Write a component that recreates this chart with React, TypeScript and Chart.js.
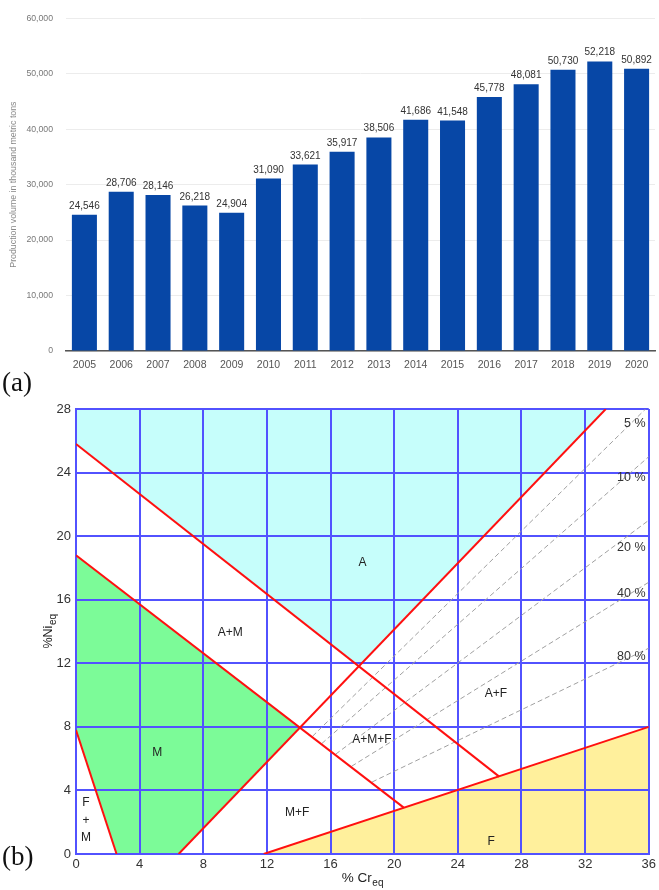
import React, { useEffect, useRef } from "react";
import { Chart, registerables } from "chart.js";

Chart.register(...registerables);

const FONT = "'Liberation Sans', Arial, Helvetica, sans-serif";

// ---------- Panel (a): production volume ----------
const years = ["2005", "2006", "2007", "2008", "2009", "2010", "2011", "2012", "2013", "2014", "2015", "2016", "2017", "2018", "2019", "2020"];
const production = [24546, 28706, 28146, 26218, 24904, 31090, 33621, 35917, 38506, 41686, 41548, 45778, 48081, 50730, 52218, 50892];
const productionTicks = [0, 10000, 20000, 30000, 40000, 50000, 60000];

// ---------- Panel (b): Schaeffler diagram ----------
const crTicks = [0, 4, 8, 12, 16, 20, 24, 28, 32, 36];
const niTicks = [0, 4, 8, 12, 16, 20, 24, 28];

const austeniteRegion = [
  { x: 0, y: 28 }, { x: 0, y: 25.8 }, { x: 17.77, y: 11.8 }, { x: 33.3, y: 28 }, { x: 0, y: 28 },
];
const martensiteRegion = [
  { x: 0, y: 18.8 }, { x: 14.1, y: 7.98 }, { x: 6.45, y: 0 }, { x: 2.55, y: 0 }, { x: 0, y: 7.8 }, { x: 0, y: 18.8 },
];
const ferriteRegion = [
  { x: 11.8, y: 0 }, { x: 36, y: 8 }, { x: 36, y: 0 }, { x: 11.8, y: 0 },
];

const boundaryLines = [
  [{ x: 0, y: 25.8 }, { x: 26.6, y: 4.87 }],
  [{ x: 0, y: 18.8 }, { x: 20.6, y: 2.92 }],
  [{ x: 6.45, y: 0 }, { x: 33.3, y: 28 }],
  [{ x: 11.8, y: 0 }, { x: 36, y: 8 }],
  [{ x: 0, y: 7.8 }, { x: 2.55, y: 0 }],
];

const ferriteLines = [
  [{ x: 14.87, y: 7.41 }, { x: 35.8, y: 28 }],
  [{ x: 15.45, y: 6.95 }, { x: 36, y: 25 }],
  [{ x: 16.32, y: 6.28 }, { x: 36, y: 21 }],
  [{ x: 17.32, y: 5.52 }, { x: 36, y: 17.1 }],
  [{ x: 18.61, y: 4.53 }, { x: 36, y: 12.95 }],
];
const ferriteLabels = ["5 %", "10 %", "20 %", "40 %", "80 %"];
const ferriteLabelY = [27.1, 23.7, 19.3, 16.4, 12.4];
const ferriteLabelX = 35.8;

const phaseLabels = [
  { text: "A", x: 18, y: 18.3 },
  { text: "A+M", x: 9.7, y: 13.9 },
  { text: "M", x: 5.1, y: 6.35 },
  { text: "F", x: 0.63, y: 3.2 },
  { text: "+", x: 0.63, y: 2.1 },
  { text: "M", x: 0.63, y: 1.05 },
  { text: "M+F", x: 13.9, y: 2.6 },
  { text: "A+M+F", x: 18.6, y: 7.2 },
  { text: "A+F", x: 26.4, y: 10.1 },
  { text: "F", x: 26.1, y: 0.8 },
];

const barValueLabels = {
  id: "barValueLabels",
  afterDatasetsDraw(chart: any) {
    const { ctx } = chart;
    const meta = chart.getDatasetMeta(0);
    ctx.save();
    ctx.font = `10px ${FONT}`;
    ctx.fillStyle = "#333";
    ctx.textAlign = "center";
    ctx.textBaseline = "alphabetic";
    meta.data.forEach((bar: any, i: number) => {
      ctx.fillText(production[i].toLocaleString("en-US"), bar.x, bar.y - 6);
    });
    ctx.restore();
  },
};

const schaefflerText = {
  id: "schaefflerText",
  afterDatasetsDraw(chart: any) {
    const { ctx } = chart;
    const xs = chart.scales.x;
    const ys = chart.scales.y;
    ctx.save();
    ctx.fillStyle = "#222";
    ctx.font = `12px ${FONT}`;
    ctx.textAlign = "center";
    ctx.textBaseline = "middle";
    phaseLabels.forEach((l) => {
      ctx.fillText(l.text, xs.getPixelForValue(l.x), ys.getPixelForValue(l.y));
    });
    ctx.font = `12.5px ${FONT}`;
    ctx.textAlign = "right";
    ctx.fillStyle = "#333";
    ferriteLabels.forEach((t, i) => {
      ctx.fillText(t, xs.getPixelForValue(ferriteLabelX), ys.getPixelForValue(ferriteLabelY[i]));
    });
    ctx.restore();
  },
  afterDraw(chart: any) {
    const { ctx, chartArea } = chart;
    ctx.save();
    ctx.fillStyle = "#222";
    ctx.textBaseline = "alphabetic";
    ctx.textAlign = "left";
    // x title: % Cr_eq
    const mainFont = `13.5px ${FONT}`;
    const subFont = `10px ${FONT}`;
    ctx.font = mainFont;
    const w1 = ctx.measureText("% Cr").width;
    ctx.font = subFont;
    const w2 = ctx.measureText("eq").width;
    const cx = (chartArea.left + chartArea.right) / 2;
    const bx = cx - (w1 + w2) / 2;
    const by = chartArea.bottom + 28;
    ctx.font = mainFont;
    ctx.fillText("% Cr", bx, by);
    ctx.font = subFont;
    ctx.fillText("eq", bx + w1 + 0.5, by + 3.5);
    // y title: %Ni_eq
    const yFont = `12.5px ${FONT}`;
    ctx.font = yFont;
    const v1 = ctx.measureText("%Ni").width;
    ctx.font = subFont;
    const v2 = ctx.measureText("eq").width;
    const cy = (chartArea.top + chartArea.bottom) / 2;
    ctx.translate(52, cy);
    ctx.rotate(-Math.PI / 2);
    const sx = -(v1 + v2) / 2;
    ctx.font = yFont;
    ctx.fillText("%Ni", sx, 0);
    ctx.font = subFont;
    ctx.fillText("eq", sx + v1 + 0.5, 3.5);
    ctx.restore();
  },
};

export default function App() {
  const refA = useRef<HTMLCanvasElement>(null);
  const refB = useRef<HTMLCanvasElement>(null);

  useEffect(() => {
    const chartA = new Chart(refA.current as HTMLCanvasElement, {
      type: "bar",
      data: {
        labels: years,
        datasets: [
          {
            data: production,
            backgroundColor: "#0747a6",
            barPercentage: 0.68,
            categoryPercentage: 1,
          },
        ],
      },
      options: {
        animation: false,
        responsive: false,
        events: [],
        layout: { padding: { left: 0, right: 4, top: 7, bottom: 0 } },
        plugins: { legend: { display: false }, tooltip: { enabled: false } },
        scales: {
          x: {
            grid: { display: false, drawTicks: false },
            border: { display: true, color: "#555", width: 1.5 },
            ticks: { font: { family: FONT, size: 10.5 }, color: "#555", padding: 8, maxRotation: 0, autoSkip: false },
            afterFit: (s: any) => { s.height = 27; },
          },
          y: {
            min: 0,
            max: 60000,
            grid: { color: "#ececec", drawTicks: false },
            border: { display: false },
            afterBuildTicks: (s: any) => { s.ticks = productionTicks.map((v) => ({ value: v })); },
            ticks: {
              padding: 13,
              font: { family: FONT, size: 8.7 },
              color: "#777",
              callback: (v: any) => Number(v).toLocaleString("en-US"),
            },
            title: {
              display: true,
              text: "Production volume in thousand metric tons",
              font: { family: FONT, size: 8.8 },
              color: "#888",
              padding: { top: 8, bottom: 0 },
            },
            afterFit: (s: any) => { s.width = 66; },
          },
        },
      },
      plugins: [barValueLabels],
    } as any);

    const polygon = (data: any[], color: string) => ({
      data,
      showLine: true,
      fill: "shape",
      backgroundColor: color,
      borderWidth: 0,
      borderColor: "rgba(0,0,0,0)",
      pointRadius: 0,
      tension: 0,
    });

    const chartB = new Chart(refB.current as HTMLCanvasElement, {
      type: "scatter",
      data: {
        datasets: [
          ...boundaryLines.map((d) => ({
            data: d,
            showLine: true,
            borderColor: "#ff1010",
            borderWidth: 2,
            pointRadius: 0,
            fill: false,
          })),
          ...ferriteLines.map((d) => ({
            data: d,
            showLine: true,
            borderColor: "#a0a0a0",
            borderWidth: 1,
            borderDash: [5, 3],
            pointRadius: 0,
            fill: false,
          })),
          polygon(austeniteRegion, "#c6fefb"),
          polygon(martensiteRegion, "#7cfb98"),
          polygon(ferriteRegion, "#fff09c"),
        ],
      },
      options: {
        animation: false,
        responsive: false,
        events: [],
        layout: { padding: { left: 0, right: 10, top: 14, bottom: 0 } },
        plugins: {
          legend: { display: false },
          tooltip: { enabled: false },
          filler: { propagate: false, drawTime: "beforeDraw" },
        },
        scales: {
          x: {
            type: "linear",
            min: 0,
            max: 36,
            afterBuildTicks: (s: any) => { s.ticks = crTicks.map((v) => ({ value: v })); },
            grid: { color: "#5252ff", lineWidth: 2, drawTicks: false },
            border: { display: true, color: "#5252ff", width: 2 },
            ticks: { font: { family: FONT, size: 13 }, color: "#333", padding: 3, maxRotation: 0 },
            afterFit: (s: any) => { s.height = 36; },
          },
          y: {
            type: "linear",
            min: 0,
            max: 28,
            afterBuildTicks: (s: any) => { s.ticks = niTicks.map((v) => ({ value: v })); },
            grid: { color: "#5252ff", lineWidth: 2, drawTicks: false },
            border: { display: true, color: "#5252ff", width: 2 },
            ticks: { font: { family: FONT, size: 13 }, color: "#333", padding: 5 },
            afterFit: (s: any) => { s.width = 76; },
          },
        },
      },
      plugins: [schaefflerText],
    } as any);

    return () => {
      chartA.destroy();
      chartB.destroy();
    };
  }, []);

  const panelLabel: React.CSSProperties = {
    position: "absolute",
    left: 2,
    fontFamily: "'Liberation Serif', 'Times New Roman', serif",
    fontSize: 27,
    lineHeight: "27px",
    color: "#111",
  };

  return (
    <div style={{ position: "absolute", left: 0, top: 0, width: 659, height: 890, background: "#fff", overflow: "hidden" }}>
      <canvas ref={refA} width={659} height={378} style={{ position: "absolute", left: 0, top: 0, width: 659, height: 378 }} />
      <canvas ref={refB} width={659} height={495} style={{ position: "absolute", left: 0, top: 395, width: 659, height: 495 }} />
      <div style={{ ...panelLabel, top: 369 }}>(a)</div>
      <div style={{ ...panelLabel, top: 843 }}>(b)</div>
    </div>
  );
}
